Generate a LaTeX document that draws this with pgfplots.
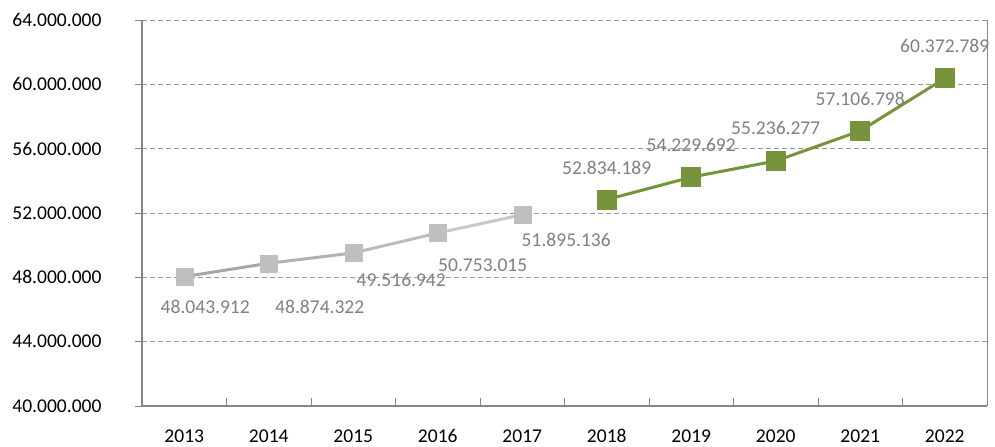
\documentclass[border=0pt]{standalone}
\usepackage{pgfplots}
\pgfplotsset{compat=1.18}
\usepackage{pgfplotstable}
\usepackage{fontspec}
\setmainfont{Carlito}
\usetikzlibrary{calc}

\definecolor{axgray}{RGB}{134,134,134}
\definecolor{gridgray}{RGB}{150,150,150}
\definecolor{labgray}{RGB}{128,128,128}
\definecolor{olive}{RGB}{119,147,60}
\definecolor{mkgray}{RGB}{191,191,191}

% grey years 2013-2017, label offsets in bp
\pgfplotstableread{
x y dx dy lab
0 48043912 21 -30.5 48.043.912
1 48874322 51 -44 48.874.322
2 49516942 48 -27.5 49.516.942
3 50753015 45 -32.5 50.753.015
4 51895136 44 -25 51.895.136
}\greydata

% green years 2018-2022
\pgfplotstableread{
x y dx dy lab
5 52834189 0 32 52.834.189
6 54229692 0 32.5 54.229.692
7 55236277 0 32.5 55.236.277
8 57106798 0 32 57.106.798
9 60372789 0 32.5 60.372.789
}\greendata

\newcommand{\lblfont}{\fontsize{19.6}{23}\selectfont}

\begin{document}
\begin{tikzpicture}
\begin{axis}[
    name=ax,
    scale only axis,
    width=845bp, height=386bp,
    xmin=-0.5, xmax=9.5,
    ymin=40000000, ymax=64000000,
    scaled y ticks=false,
    axis x line*=bottom,
    axis y line*=left,
    axis line style={axgray, line width=1.5bp},
    xtick={0,...,9},
    xticklabels={2013,2014,2015,2016,2017,2018,2019,2020,2021,2022},
    major x tick style={draw=none},
    minor xtick={0.5,1.5,...,8.5},
    minor x tick style={axgray, line width=0.8bp},
    minor tick length=8bp,
    xtick align=inside,
    ytick={40000000,44000000,48000000,52000000,56000000,60000000,64000000},
    yticklabels={40.000.000,44.000.000,48.000.000,52.000.000,56.000.000,60.000.000,64.000.000},
    ytick align=outside,
    major tick length=7bp,
    y tick style={axgray, line width=0.8bp},
    ymajorgrids,
    major grid style={gridgray, line width=0.8bp, dash pattern=on 5bp off 3bp},
    extra x ticks={9.5},
    extra x tick labels={},
    extra x tick style={xmajorgrids=true, major grid style={solid, axgray, line width=0.8bp}, major x tick style={draw=none}},
    tick label style={font=\lblfont, text=black},
    yticklabel style={xshift=-30bp},
    xticklabel style={yshift=-20bp},
    clip=false,
]
% grey line, getting lighter to the right
\addplot[mesh, line width=3bp, point meta=x,
    colormap={greyfade}{rgb255=(160,160,160) rgb255=(205,205,205)}]
    table[x=x, y=y] {\greydata};
\addplot[only marks, mark=square*, mark size=8.5bp, mkgray,
    point meta=explicit symbolic,
    visualization depends on={\thisrow{dx} \as \dx},
    visualization depends on={\thisrow{dy} \as \dy},
    nodes near coords,
    every node near coord/.append style={font=\lblfont, text=labgray, anchor=center, xshift=\dx bp, yshift=\dy bp}]
    table[x=x, y=y, meta=lab] {\greydata};

\addplot[olive, line width=3bp, mark=square*, mark size=8.5bp,
    point meta=explicit symbolic,
    visualization depends on={\thisrow{dx} \as \dx},
    visualization depends on={\thisrow{dy} \as \dy},
    nodes near coords,
    every node near coord/.append style={font=\lblfont, text=labgray, anchor=center, xshift=\dx bp, yshift=\dy bp}]
    table[x=x, y=y, meta=lab] {\greendata};
\end{axis}
\pgfresetboundingbox
\path ($(ax.south west)+(-142bp,-40bp)$) rectangle ($(ax.north east)+(8bp,20bp)$);
\end{tikzpicture}
\end{document}
